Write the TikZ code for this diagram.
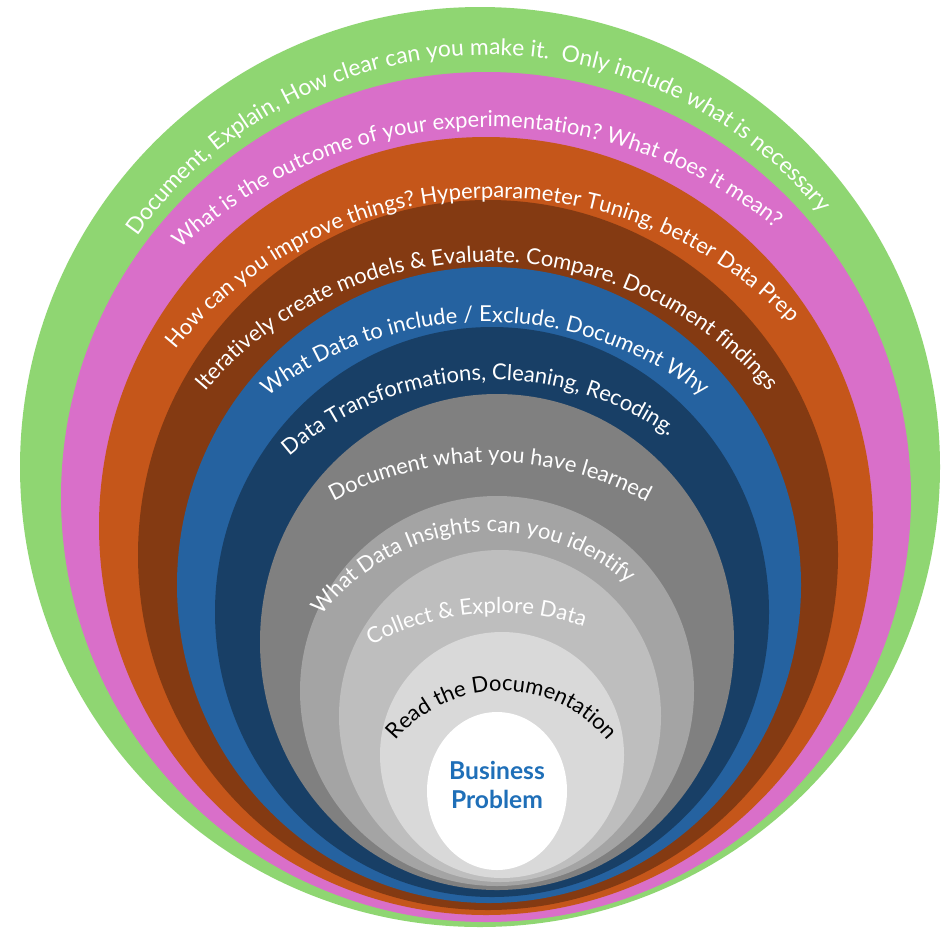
\documentclass[tikz,border=0pt]{standalone}
\usepackage{fontspec}
\setmainfont{Lato}
\usetikzlibrary{decorations.text}
\definecolor{ringgreen}{HTML}{8FD672}
\definecolor{ringpink}{HTML}{D96FC9}
\definecolor{ringorange}{HTML}{C5561A}
\definecolor{ringbrown}{HTML}{843A12}
\definecolor{ringblue}{HTML}{2562A0}
\definecolor{ringnavy}{HTML}{183F66}
\definecolor{ringgrey}{HTML}{808080}
\definecolor{ringmid}{HTML}{A4A4A4}
\definecolor{ringlight}{HTML}{BEBEBE}
\definecolor{ringpale}{HTML}{D9D9D9}
\definecolor{bizblue}{HTML}{1F6FB8}
\newcommand{\ringfont}{\fontsize{12.5}{14}\selectfont\color{white}}
\newcommand{\outerringfont}{\fontsize{13}{15}\selectfont\color{white}}
\newcommand{\paleringfont}{\fontsize{12.5}{14}\selectfont\color{black}}

\begin{document}
\begin{tikzpicture}[x=0.2mm,y=0.2mm]
                        \tikzstyle{ringtext}=[decorate, decoration={text along path, text align=center}]
                        \useasboundingbox (0,0) rectangle (944,-929);
                        \fill[white] (0,0) rectangle (944,-929);
                        \fill[ringgreen] (480,-467) ellipse [x radius=460, y radius=460];
                        \fill[ringpink] (486,-497) ellipse [x radius=425, y radius=425];
                        \fill[ringorange] (486,-526) ellipse [x radius=387, y radius=389];
                        \fill[ringbrown] (488,-555) ellipse [x radius=350, y radius=355];
                        \fill[ringblue] (489,-585) ellipse [x radius=312, y radius=318];
                        \fill[ringnavy] (492,-612) ellipse [x radius=277, y radius=285];
                        \fill[ringgrey] (497,-642) ellipse [x radius=237, y radius=248];
                        \fill[ringmid] (497,-691) ellipse [x radius=197, y radius=195];
                        \fill[ringlight] (500,-716) ellipse [x radius=161, y radius=166];
                        \fill[ringpale] (502,-755) ellipse [x radius=122, y radius=123];
                        \fill[white] (497,-791) ellipse [x radius=70, y radius=79];
                        \coordinate (cgreen) at (488,-484);
                        \coordinate (cpink) at (490,-580);
                        \coordinate (corange) at (495,-610);
                        \coordinate (cbrown) at (487,-633);
                        \coordinate (cblue) at (485,-677);
                        \coordinate (cnavy) at (492,-687);
                        \coordinate (cgrey) at (490,-791);
                        \coordinate (cmid) at (490,-742);
                        \coordinate (clight) at (499,-881);
                        \coordinate (cpale) at (502,-828);
                        \path[ringtext, decoration={text={|\outerringfont|Document, Explain, How clear can you make it.{\ } Only include what is necessary}}]
                            ([shift={(160:429)}]cgreen) arc[start angle=160, end angle=24, radius=429];
                        \path[ringtext, decoration={text={|\ringfont|What is the outcome of your experimentation? What does it mean?}}]
                            ([shift={(143:453)}]cpink) arc[start angle=143, end angle=41, radius=453];
                        \path[ringtext, decoration={text={|\ringfont|How can you improve things?  Hyperparameter Tuning, better Data Prep}}]
                            ([shift={(150:412)}]corange) arc[start angle=150, end angle=35, radius=412];
                        \path[ringtext, decoration={text={|\ringfont|Iteratively create models {\&} Evaluate. Compare. Document findings}}]
                            ([shift={(150:371)}]cbrown) arc[start angle=150, end angle=30, radius=371];
                        \path[ringtext, decoration={text={|\ringfont|What Data to include / Exclude. Document Why}}]
                            ([shift={(138:355)}]cblue) arc[start angle=138, end angle=42, radius=355];
                        \path[ringtext, decoration={text={|\ringfont|Data Transformations, Cleaning, Recoding.}}]
                            ([shift={(143:307)}]cnavy) arc[start angle=143, end angle=43, radius=307];
                        \path[ringtext, decoration={text={|\ringfont|Document what you have learned}}]
                            ([shift={(130:329)}]cgrey) arc[start angle=130, end angle=50, radius=329];
                        \path[ringtext, decoration={text={|\ringfont|What Data Insights can you identify}}]
                            ([shift={(156:210)}]cmid) arc[start angle=156, end angle=36, radius=210];
                        \path[ringtext, decoration={text={|\ringfont|Collect {\&} Explore Data}}]
                            ([shift={(130:268)}]clight) arc[start angle=130, end angle=60, radius=268];
                        \path[ringtext, decoration={text={|\paleringfont|Read the Documentation}}]
                            ([shift={(152:137)}]cpale) arc[start angle=152, end angle=28, radius=137];
                        \node[align=center, text=bizblue, font=\bfseries\fontsize{14}{17}\selectfont] (problem) at (497,-785) {Business\\Problem};
                    \end{tikzpicture}
\end{document}
